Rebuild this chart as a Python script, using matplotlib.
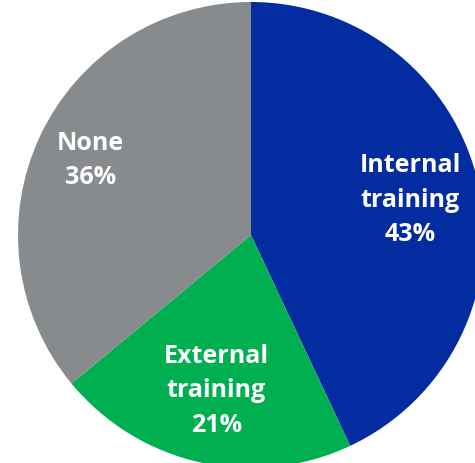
import numpy as np
import matplotlib.pyplot as plt

# data
labels = ['Internal\ntraining', 'External\ntraining', 'None']
shares = [43, 21, 36]
colors = ['#032CA1', '#00B050', '#888B8D']
label_dist = [0.70, 0.68, 0.76]

fig = plt.figure(figsize=(4.75, 4.64), dpi=100)
ax = fig.add_axes([0, 0, 1, 1])

wedges, _ = ax.pie(shares, colors=colors, startangle=90, counterclock=False,
                   radius=233, center=(251, 228), frame=True,
                   wedgeprops=dict(linewidth=0))
ax.set_xlim(0, 475)
ax.set_ylim(0, 464)
ax.set_aspect('equal')
ax.axis('off')

for w, lab, val, d in zip(wedges, labels, shares, label_dist):
    ang = np.deg2rad((w.theta1 + w.theta2) / 2)
    x = w.center[0] + w.r * d * np.cos(ang)
    y = w.center[1] + w.r * d * np.sin(ang)
    ax.text(x, y, f'{lab}\n{val}%', ha='center', va='center', color='white',
            fontsize=18, fontweight='bold', family='Open Sans', linespacing=1.5)

fig.savefig('out.png', dpi=100)
